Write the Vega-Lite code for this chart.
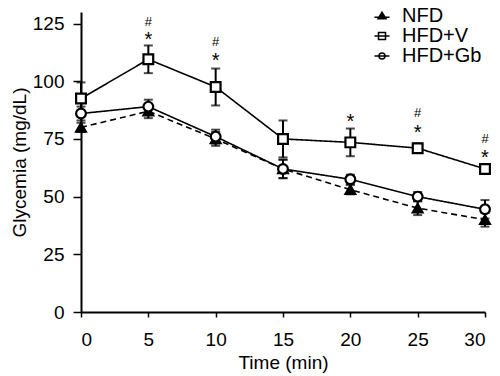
{
  "$schema": "https://vega.github.io/schema/vega-lite/v6.json",
  "width": 404,
  "height": 300,
  "autosize": {"type": "none"},
  "padding": {"left": 81, "top": 12, "right": 15, "bottom": 64},
  "background": "white",
  "config": {
    "font": "Liberation Sans",
    "view": {"stroke": null},
    "axis": {
      "domainColor": "black", "domainWidth": 2, "tickColor": "black", "tickWidth": 1.5,
      "labelColor": "black", "labelFontSize": 19, "titleFontSize": 19, "titleFontWeight": "normal",
      "titleColor": "black", "grid": false
    },
    "legend": {
      "orient": "none", "legendX": 291, "legendY": -6, "title": null, "labelFontSize": 20,
      "labelColor": "black", "rowPadding": 0, "padding": 0, "symbolSize": 100, "labelOffset": 10
    }
  },
  "datasets": {
    "means": [
      {"group": "NFD", "time": 0, "mean": 80, "err": 2},
      {"group": "NFD", "time": 5, "mean": 87, "err": 3},
      {"group": "NFD", "time": 10, "mean": 75, "err": 3},
      {"group": "NFD", "time": 15, "mean": 62, "err": 4},
      {"group": "NFD", "time": 20, "mean": 53, "err": 2},
      {"group": "NFD", "time": 25, "mean": 45, "err": 3},
      {"group": "NFD", "time": 30, "mean": 40, "err": 3},
      {"group": "HFD+Gb", "time": 0, "mean": 86, "err": 3},
      {"group": "HFD+Gb", "time": 5, "mean": 89, "err": 3},
      {"group": "HFD+Gb", "time": 10, "mean": 76, "err": 3},
      {"group": "HFD+Gb", "time": 15, "mean": 62, "err": 4},
      {"group": "HFD+Gb", "time": 20, "mean": 57.5, "err": 2},
      {"group": "HFD+Gb", "time": 25, "mean": 50, "err": 2},
      {"group": "HFD+Gb", "time": 30, "mean": 44.5, "err": 4},
      {"group": "HFD+V", "time": 0, "mean": 92.5, "err": 7},
      {"group": "HFD+V", "time": 5, "mean": 109.5, "err": 6},
      {"group": "HFD+V", "time": 10, "mean": 97.5, "err": 8},
      {"group": "HFD+V", "time": 15, "mean": 75, "err": 8},
      {"group": "HFD+V", "time": 20, "mean": 73.5, "err": 6},
      {"group": "HFD+V", "time": 25, "mean": 71, "err": 2},
      {"group": "HFD+V", "time": 30, "mean": 62, "err": 1.5}
    ],
    "sig": [
      {"time": 5, "y": 126, "label": "#"},
      {"time": 5, "y": 120.5, "label": "*"},
      {"time": 10, "y": 117.5, "label": "#"},
      {"time": 10, "y": 111.5, "label": "*"},
      {"time": 20, "y": 85, "label": "*"},
      {"time": 25, "y": 86.5, "label": "#"},
      {"time": 25, "y": 80, "label": "*"},
      {"time": 30, "y": 75.5, "label": "#"},
      {"time": 30, "y": 69.5, "label": "*"}
    ]
  },
  "layer": [
    {
      "data": {"name": "means"},
      "mark": {"type": "errorbar", "ticks": {"size": 9, "color": "black", "thickness": 2}, "rule": {"color": "black", "strokeWidth": 2}},
      "encoding": {
        "x": {"field": "time", "type": "quantitative", "scale": {"domain": [0, 30]},
              "axis": {"values": [0, 5, 10, 15, 20, 25, 30], "title": "Time (min)", "titlePadding": 4,
                       "tickSize": 5, "labelPadding": 13, "titleFontWeight": "normal"}},
        "y": {"field": "mean", "type": "quantitative", "scale": {"domain": [0, 125]},
              "axis": {"values": [0, 25, 50, 75, 100, 125], "title": "Glycemia (mg/dL)", "titlePadding": 3,
                       "labelPadding": 9, "tickSize": 8, "titleFontWeight": "normal"}},
        "yError": {"field": "err"},
        "detail": {"field": "group"}
      }
    },
    {
      "data": {"name": "means"},
      "mark": {"type": "line", "color": "black", "strokeWidth": 1.6},
      "encoding": {
        "x": {"field": "time", "type": "quantitative"},
        "y": {"field": "mean", "type": "quantitative"},
        "detail": {"field": "group"},
        "strokeDash": {"field": "group", "type": "nominal",
          "scale": {"domain": ["NFD", "HFD+V", "HFD+Gb"], "range": [[6, 4], [1, 0], [1, 0]]}, "legend": null}
      }
    },
    {
      "data": {"name": "means"},
      "mark": {"type": "point", "filled": true, "stroke": "black", "strokeWidth": 2.2, "size": 95, "opacity": 1},
      "encoding": {
        "x": {"field": "time", "type": "quantitative"},
        "y": {"field": "mean", "type": "quantitative"},
        "shape": {"field": "group", "type": "nominal",
          "scale": {"domain": ["NFD", "HFD+V", "HFD+Gb"], "range": ["triangle-up", "square", "circle"]}, "legend": null},
        "fill": {"field": "group", "type": "nominal",
          "scale": {"domain": ["NFD", "HFD+V", "HFD+Gb"], "range": ["black", "white", "white"]}, "legend": null}
      }
    },
    {
      "data": {"name": "means"},
      "transform": [{"filter": "false"}],
      "mark": {"type": "point", "filled": true, "opacity": 1, "stroke": "black", "strokeWidth": 1.8},
      "encoding": {
        "x": {"field": "time", "type": "quantitative"},
        "y": {"field": "mean", "type": "quantitative"},
        "shape": {"field": "group", "type": "nominal",
          "scale": {"domain": ["NFD", "HFD+V", "HFD+Gb"],
            "range": ["M-1.5,0.25H1.5M0,-0.75L0.8,0.55H-0.8Z", "M-1.5,0H1.5M-0.7,-0.7H0.7V0.7H-0.7Z", "M-1.5,0H1.5M0.6,0A0.6,0.6,0,1,1,-0.6,0A0.6,0.6,0,1,1,0.6,0Z"]},
          "legend": {"encode": {"symbols": {"update": {"stroke": {"value": "black"}, "strokeWidth": {"value": 1.8}, "opacity": {"value": 1}}}}}},
        "fill": {"field": "group", "type": "nominal",
          "scale": {"domain": ["NFD", "HFD+V", "HFD+Gb"], "range": ["black", "white", "white"]},
          "legend": {"encode": {"symbols": {"update": {"stroke": {"value": "black"}, "strokeWidth": {"value": 1.8}, "opacity": {"value": 1}}}}}}
      }
    },
    {
      "data": {"name": "sig"},
      "transform": [{"filter": "datum.label === '*'"}],
      "mark": {"type": "text", "fontSize": 20, "baseline": "alphabetic", "dy": 12, "color": "black"},
      "encoding": {
        "x": {"field": "time", "type": "quantitative"},
        "y": {"field": "y", "type": "quantitative"},
        "text": {"field": "label"}
      }
    },
    {
      "data": {"name": "sig"},
      "transform": [{"filter": "datum.label === '#'"}],
      "mark": {"type": "text", "fontSize": 13, "baseline": "alphabetic", "dy": 5, "color": "black"},
      "encoding": {
        "x": {"field": "time", "type": "quantitative"},
        "y": {"field": "y", "type": "quantitative"},
        "text": {"field": "label"}
      }
    }
  ],
  "resolve": {"scale": {"shape": "independent", "fill": "independent"}}
}
